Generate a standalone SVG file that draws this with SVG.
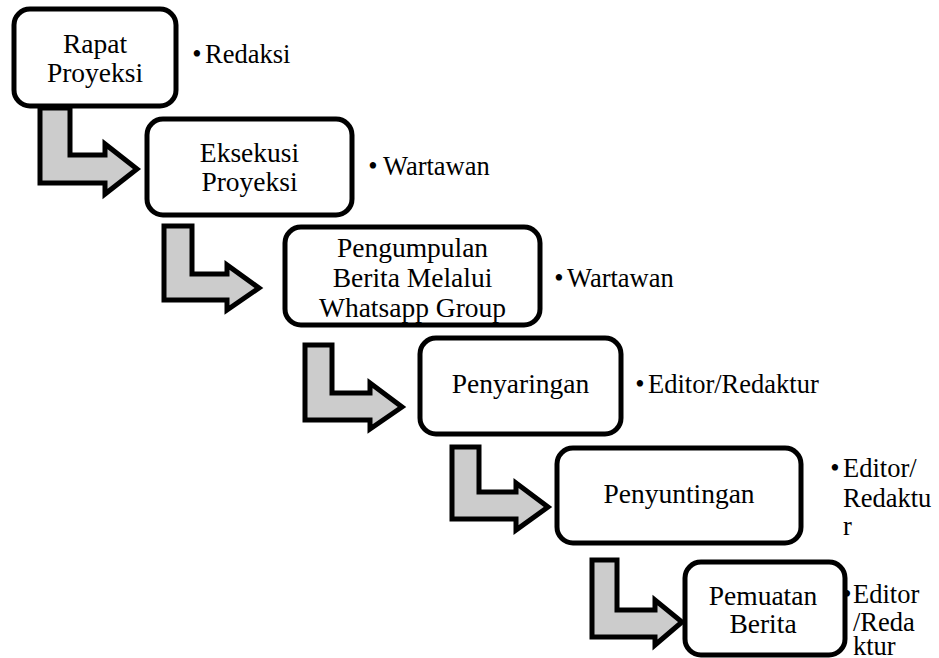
<svg xmlns="http://www.w3.org/2000/svg" width="939" height="658" viewBox="0 0 939 658">
<style>
.box{fill:#fff;stroke:#000;stroke-width:5}
.arr{fill:#cccccc;stroke:#000;stroke-width:5}
text{font-family:'Liberation Serif','Times New Roman',serif !important;fill:#000}
.t{font-size:27.5px;text-anchor:middle}
.l{font-size:26.5px}
.b{font-size:26.5px;text-anchor:middle}
</style>
<rect width="939" height="658" fill="#fff"/>
<g id="connectors">
<polygon class="arr" points="40,108 70,108 70,155 105,155 105,144 137,169 105,194 105,183 40,183"/>
<polygon class="arr" points="164,226 192,226 192,274 227,274 227,265 259,288 227,310 227,300 164,300"/>
<polygon class="arr" points="305,345 332,345 332,393 370,393 370,383 402,407 370,429 370,420 305,420"/>
<polygon class="arr" points="452,447 479,447 479,492 516,492 516,483 548,507 516,530 516,519 452,519"/>
<polygon class="arr" points="592,560 617,560 617,610 655,610 655,600 682,622 655,645 655,637 592,637"/>
</g>
<g id="node1">
<rect class="box" x="14" y="9" width="162" height="97" rx="16"/>
<text class="t" x="95" y="53" style="font-family:'Liberation Serif',serif !important">Rapat</text>
<text class="t" x="95" y="82" style="font-family:'Liberation Serif',serif !important">Proyeksi</text>
<text class="b" x="197" y="63" style="font-family:'Liberation Serif',serif !important">•</text>
<text class="l" x="205" y="63" style="font-family:'Liberation Serif',serif !important">Redaksi</text>
</g>
<g id="node2">
<rect class="box" x="147" y="119" width="205" height="96" rx="16"/>
<text class="t" x="249.5" y="162" style="font-family:'Liberation Serif',serif !important">Eksekusi</text>
<text class="t" x="249.5" y="191" style="font-family:'Liberation Serif',serif !important">Proyeksi</text>
<text class="b" x="373" y="175" style="font-family:'Liberation Serif',serif !important">•</text>
<text class="l" x="383" y="175" style="font-family:'Liberation Serif',serif !important">Wartawan</text>
</g>
<g id="node3">
<rect class="box" x="285" y="227" width="255" height="98" rx="16"/>
<text class="t" x="412.5" y="257" style="font-family:'Liberation Serif',serif !important">Pengumpulan</text>
<text class="t" x="412.5" y="287" style="font-family:'Liberation Serif',serif !important">Berita Melalui</text>
<text class="t" x="412.5" y="317" style="font-family:'Liberation Serif',serif !important">Whatsapp Group</text>
<text class="b" x="559" y="287" style="font-family:'Liberation Serif',serif !important">•</text>
<text class="l" x="567" y="287" style="font-family:'Liberation Serif',serif !important">Wartawan</text>
</g>
<g id="node4">
<rect class="box" x="420" y="338" width="201" height="96" rx="16"/>
<text class="t" x="520.5" y="393" style="font-family:'Liberation Serif',serif !important">Penyaringan</text>
<text class="b" x="640" y="393" style="font-family:'Liberation Serif',serif !important">•</text>
<text class="l" x="648" y="393" style="font-family:'Liberation Serif',serif !important">Editor/Redaktur</text>
</g>
<g id="node5">
<rect class="box" x="557" y="448" width="244" height="95" rx="16"/>
<text class="t" x="679" y="503" style="font-family:'Liberation Serif',serif !important">Penyuntingan</text>
<text class="b" x="835" y="477" style="font-family:'Liberation Serif',serif !important">•</text>
<text class="l" x="843" y="477" style="font-family:'Liberation Serif',serif !important">Editor/</text>
<text class="l" x="843" y="507" style="font-family:'Liberation Serif',serif !important">Redaktu</text>
<text class="l" x="843" y="535" style="font-family:'Liberation Serif',serif !important">r</text>
</g>
<g id="node6">
<rect class="box" x="685" y="562" width="160" height="93" rx="16"/>
<text class="t" x="763" y="605" style="font-family:'Liberation Serif',serif !important">Pemuatan</text>
<text class="t" x="763" y="633" style="font-family:'Liberation Serif',serif !important">Berita</text>
<text class="b" x="847" y="603" style="font-family:'Liberation Serif',serif !important">•</text>
<text class="l" x="853" y="603" style="font-family:'Liberation Serif',serif !important">Editor</text>
<text class="l" x="853" y="631" style="font-family:'Liberation Serif',serif !important">/Reda</text>
<text class="l" x="853" y="655" style="font-family:'Liberation Serif',serif !important">ktur</text>
</g>
</svg>
